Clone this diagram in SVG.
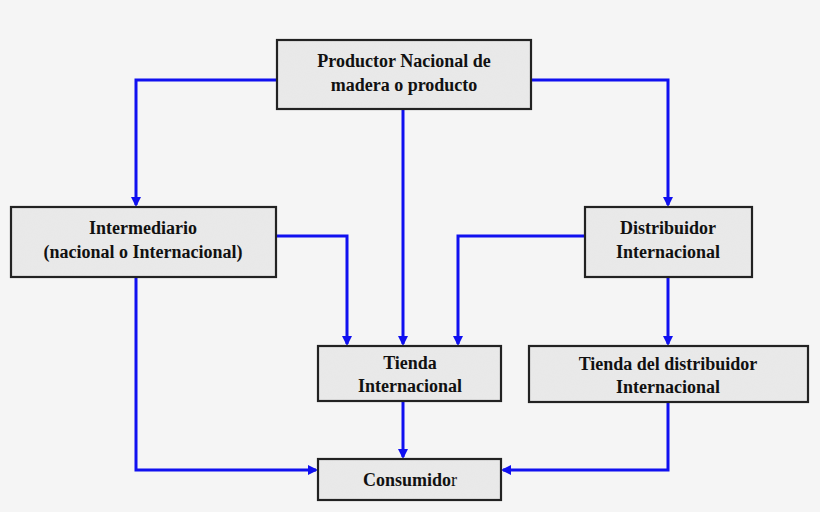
<svg xmlns="http://www.w3.org/2000/svg" width="820" height="512" viewBox="0 0 820 512">
<defs>
<filter id="tex" x="0" y="0" width="100%" height="100%">
<feTurbulence type="fractalNoise" baseFrequency="0.9" numOctaves="2" seed="3" result="n"/>
<feColorMatrix type="matrix" values="0 0 0 0 0.8  0 0 0 0 0.8  0 0 0 0 0.8  0 0 0 -1.2 0.9" in="n" result="c"/>
<feComposite in="c" in2="SourceGraphic" operator="in" result="t"/>
<feMerge><feMergeNode in="SourceGraphic"/><feMergeNode in="t"/></feMerge>
</filter>
<marker id="ah" markerWidth="10" markerHeight="10" refX="8" refY="5" orient="auto" markerUnits="userSpaceOnUse">
<path d="M0,0 L10,5 L0,10 Z" fill="#1010f0"/>
</marker>
</defs>
<style>
.fill{fill:#e9e9e9;stroke:none}
.box{fill:none;stroke:#222;stroke-width:2.2}
.t{font-family:"Liberation Serif",serif;font-weight:bold;font-size:18px;fill:#111;text-anchor:middle}
.c{fill:none;stroke:#1010f0;stroke-width:3;marker-end:url(#ah)}
</style>
<rect width="820" height="512" fill="#f5f5f5"/>
<g id="connectors">
<path class="c" d="M277,80 H136 V205"/>
<path class="c" d="M531,80 H668 V205"/>
<path class="c" d="M403,109 V344"/>
<path class="c" d="M276,236 H347 V344"/>
<path class="c" d="M585,236 H458 V344"/>
<path class="c" d="M668,277 V344"/>
<path class="c" d="M136,277 V470 H316"/>
<path class="c" d="M668,402 V470 H503"/>
<path class="c" d="M403,401 V457"/>
</g>
<g id="productor"><rect class="fill" filter="url(#tex)" x="277" y="40" width="254" height="69"/><rect class="box" x="277" y="40" width="254" height="69"/>
<text class="t" x="404" y="67">Productor Nacional de</text><text class="t" x="404" y="91">madera o producto</text></g>
<g id="intermediario"><rect class="fill" filter="url(#tex)" x="11" y="207" width="265" height="70"/><rect class="box" x="11" y="207" width="265" height="70"/>
<text class="t" x="143" y="234">Intermediario</text><text class="t" x="143" y="258">(nacional o Internacional)</text></g>
<g id="distribuidor"><rect class="fill" filter="url(#tex)" x="585" y="207" width="167" height="70"/><rect class="box" x="585" y="207" width="167" height="70"/>
<text class="t" x="668" y="234">Distribuidor</text><text class="t" x="668" y="258">Internacional</text></g>
<g id="tienda"><rect class="fill" filter="url(#tex)" x="318" y="346" width="183" height="55"/><rect class="box" x="318" y="346" width="183" height="55"/>
<text class="t" x="410" y="369">Tienda</text><text class="t" x="410" y="392">Internacional</text></g>
<g id="tienda-distribuidor"><rect class="fill" filter="url(#tex)" x="529" y="346" width="279" height="56"/><rect class="box" x="529" y="346" width="279" height="56"/>
<text class="t" x="668" y="370">Tienda del distribuidor</text><text class="t" x="668" y="393">Internacional</text></g>
<g id="consumidor"><rect class="fill" filter="url(#tex)" x="318" y="459" width="183" height="41"/><rect class="box" x="318" y="459" width="183" height="41"/>
<text class="t" x="410" y="486">Consumido<tspan font-weight="normal">r</tspan></text></g>
</svg>
